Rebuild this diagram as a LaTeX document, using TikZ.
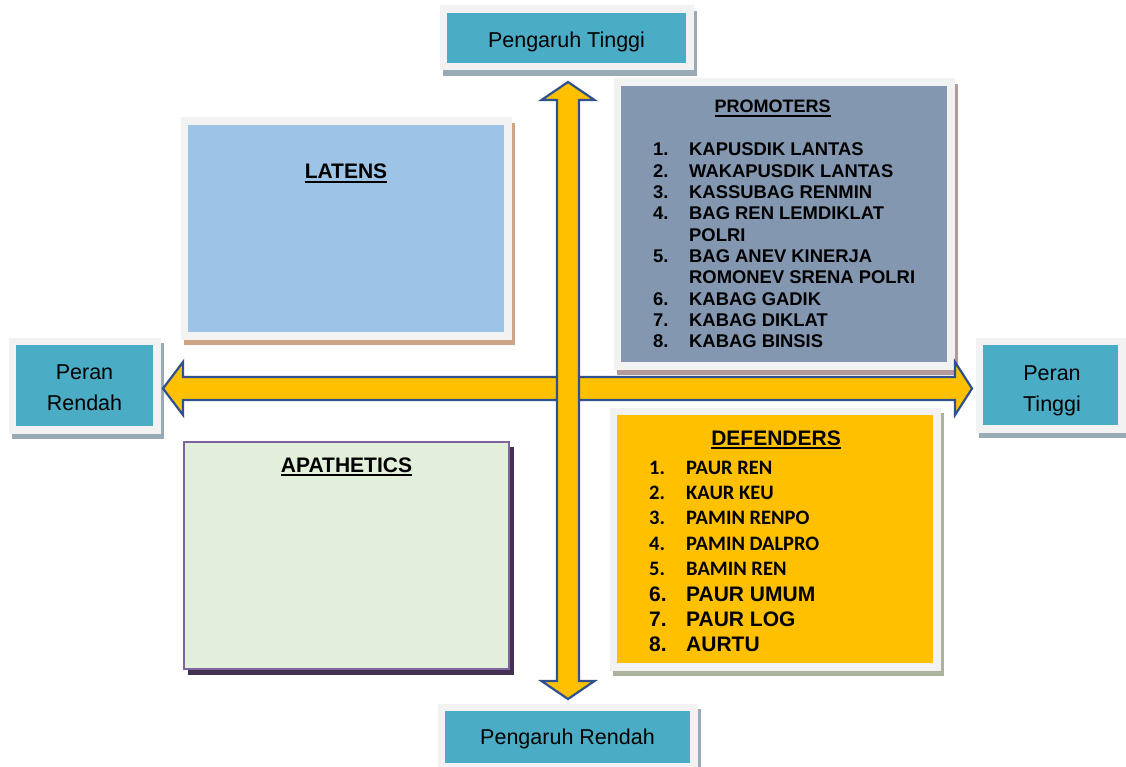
\documentclass[tikz,border=0pt]{standalone}
\usepackage{fontspec}
\setmainfont{Liberation Sans}
\newfontfamily\carl{Carlito}
\usetikzlibrary{fit}

\definecolor{tealfill}{HTML}{4BACC6}
\definecolor{framegray}{HTML}{F2F2F2}
\definecolor{tealshadow}{HTML}{98AAB5}
\definecolor{latfill}{HTML}{9DC3E6}
\definecolor{latshadow}{HTML}{CDA486}
\definecolor{promfill}{HTML}{8497B0}
\definecolor{promshadow}{HTML}{B59A9B}
\definecolor{deffill}{HTML}{FFC000}
\definecolor{defshadow}{HTML}{AAB39B}
\definecolor{apafill}{HTML}{E2EFDA}
\definecolor{apaborder}{HTML}{8064A2}
\definecolor{apashadow}{HTML}{403152}
\definecolor{arrowfill}{HTML}{FFC000}
\definecolor{arrowline}{HTML}{2F528F}

% underlined heading
\newsavebox\hdbox
\newcommand\hdline[1]{\sbox\hdbox{#1}\rlap{\rule[-3.8pt]{\wd\hdbox}{2.2pt}}\usebox\hdbox}
\newcommand\bigrow{\fontsize{21}{25.4}\selectfont}

% framed panel: shadow, light frame, coloured face
% #1 name, #2 #3 top-left, #4 #5 bottom-right, #6 face colour, #7 shadow colour
\newcommand\panel[7]{%
  \fill[#7] (#2-4,#3-2) rectangle (#4+11,#5+13);
  \fill[framegray] (#2-7.5,#3-7.5) rectangle (#4+7.5,#5+7.5);
  \node[face, fill=#6, fit={(#2,#3) (#4,#5)}] (#1) {};
}

\begin{document}
\begin{tikzpicture}[x=1pt,y=-1pt,
  face/.style={inner sep=0pt, outer sep=0pt, draw=none},
  axislabel/.style={font=\fontsize{21.5}{31}\selectfont, inner sep=0pt},
  heading/.style={font=\fontsize{21}{25}\selectfont\bfseries, inner sep=0pt},
  smallheading/.style={font=\fontsize{18}{22}\selectfont\bfseries, inner sep=0pt},
  listtext/.style={font=\fontsize{18.4}{21.3}\selectfont\bfseries, inner sep=0pt},
  blockarrow/.style={fill=arrowfill, draw=arrowline, line width=2.2pt, line join=miter}]

\useasboundingbox (0,0) rectangle (1126,767);
\fill[white] (0,0) rectangle (1126,767);

% axis end labels
\panel{highbox}{447}{13}{686}{63}{tealfill}{tealshadow}
\panel{lowbox}{445}{711}{690}{763}{tealfill}{tealshadow}
\panel{leftbox}{16}{345}{153}{426}{tealfill}{tealshadow}
\panel{rightbox}{983}{345}{1118}{425}{tealfill}{tealshadow}

% quadrants
\panel{latens}{188}{125}{504}{332}{latfill}{latshadow}
\panel{promoters}{621}{86}{947}{362}{promfill}{promshadow}
\panel{defenders}{617}{415}{933}{663}{deffill}{defshadow}
\fill[apashadow] (188,447) rectangle (514,675);
\node[face, fill=apafill, draw=apaborder, line width=2.2pt, fit={(184,442) (509,669)}] (apathetics) {};

% axis texts
\node[axislabel, anchor=base] (highlbl) at (566.5,48) {Pengaruh Tinggi};
\node[axislabel, anchor=base] (lowlbl) at (567.5,744) {Pengaruh Rendah};
\node[axislabel, anchor=base] (leftlbl) at (84.5,379)
  {\begin{tabular}[t]{@{}c@{}}Peran\\Rendah\end{tabular}};
\node[axislabel, anchor=base] (rightlbl) at (1052,380)
  {\begin{tabular}[t]{@{}c@{}}Peran\\Tinggi\end{tabular}};

% quadrant headings
\node[heading, anchor=base] (latenslbl) at (346,179) {\hdline{LATENS}};
\node[heading, anchor=base] (apalbl) at (346.5,472) {\hdline{APATHETICS}};
\node[smallheading, anchor=base] (promlbl) at (772.5,113) {\hdline{PROMOTERS}};
\node[heading, anchor=base] (deflbl) at (776,445) {\hdline{DEFENDERS}};

% promoters list
\node[listtext, anchor=base west] (promlist) at (653,156)
{\begin{tabular}[t]{@{}p{36pt}@{}l@{}}
1. & KAPUSDIK LANTAS\\
2. & WAKAPUSDIK LANTAS\\
3. & KASSUBAG RENMIN\\
4. & BAG REN LEMDIKLAT\\
   & POLRI\\
5. & BAG ANEV KINERJA\\
   & ROMONEV SRENA POLRI\\
6. & KABAG GADIK\\
7. & KABAG DIKLAT\\
8. & KABAG BINSIS
\end{tabular}};

% defenders list
\node[inner sep=0pt, anchor=base west, font=\fontsize{20.5}{25.4}\selectfont\bfseries] (deflist) at (649,474)
{\begin{tabular}[t]{@{}p{37pt}@{}l@{}}
\carl 1. & \carl PAUR REN\\
\carl 2. & \carl KAUR KEU\\
\carl 3. & \carl PAMIN RENPO\\
\carl 4. & \carl PAMIN DALPRO\\
\carl 5. & \carl BAMIN REN\\
\bigrow 6. & \bigrow PAUR UMUM\\
\bigrow 7. & \bigrow PAUR LOG\\
\bigrow 8. & \bigrow AURTU
\end{tabular}};

% horizontal double arrow (peran)
\coordinate (lefttip) at (163,388.5);
\coordinate (righttip) at (972,388.5);
\draw[blockarrow] (lefttip) -- (183,362) -- (183,377) -- (955,377) -- (955,362)
  -- (righttip) -- (955,415) -- (955,400) -- (183,400) -- (183,415) -- cycle;

% vertical double arrow (pengaruh)
\coordinate (toptip) at (568,82);
\coordinate (bottomtip) at (568,699);
\draw[blockarrow] (toptip) -- (594.5,100) -- (579,100) -- (579,681) -- (594.5,681)
  -- (bottomtip) -- (541.5,681) -- (557,681) -- (557,100) -- (541.5,100) -- cycle;

\end{tikzpicture}
\end{document}
